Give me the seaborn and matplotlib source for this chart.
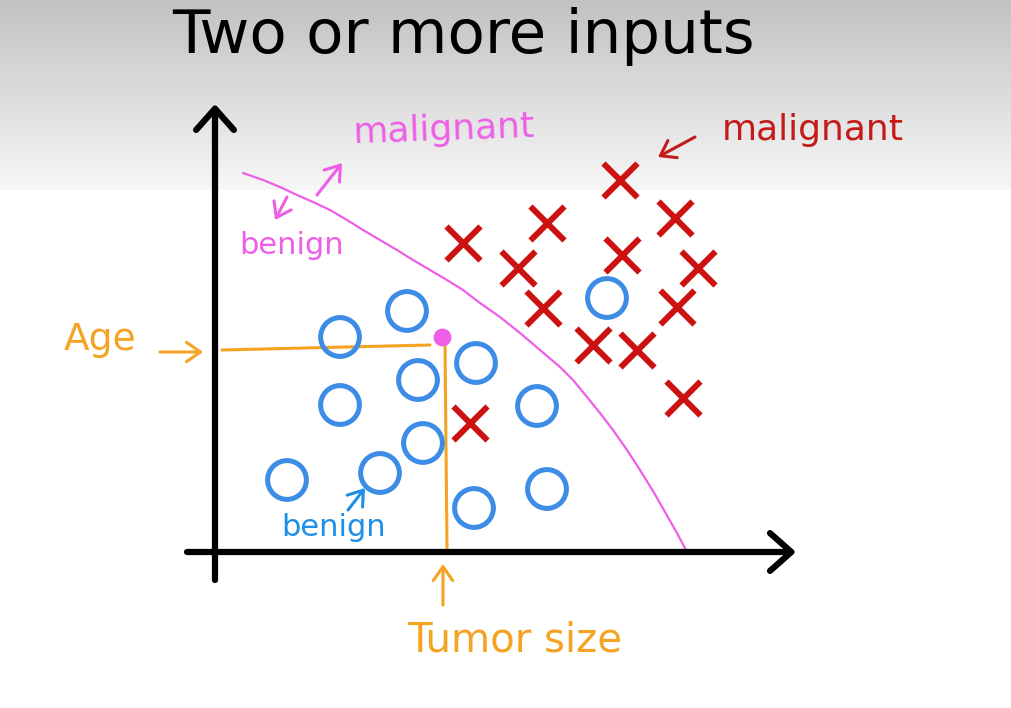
import numpy as np
import pandas as pd
import matplotlib

matplotlib.use("Agg")
import matplotlib.pyplot as plt  # noqa: E402
import seaborn as sns  # noqa: E402
from matplotlib.colors import LinearSegmentedColormap  # noqa: E402

# data in drawing units: tumor size (x) and age (y), origin at axis crossing
benign_x = [125, 192, 125, 203, 261, 208, 322, 72, 165, 259, 332, 392]
benign_y = [215, 241, 147, 172, 189, 109, 146, 72, 79, 44, 63, 254]
malignant_x = [248, 332, 303, 328, 405, 460, 407, 483, 462, 378, 422, 468, 255]
malignant_y = [309, 329, 284, 244, 372, 334, 297, 284, 245, 207, 202, 154, 129]

boundary_x = [28, 48, 65, 82, 98, 115, 132, 148, 165, 182, 198, 215, 232,
              248, 265, 285, 305, 325, 345, 358, 372, 385, 398, 412, 425,
              438, 450, 462, 472]
boundary_y = [379, 372, 365, 357, 350, 342, 332, 322, 312, 302, 292, 282,
              272, 262, 249, 235, 219, 202, 185, 172, 155, 139, 122, 102,
              82, 61, 40, 19, 0]

query_point = (227, 215)

BLUE = "#3d8ce6"
RED = "#cc1111"
MAGENTA = "#ee5ee6"
ORANGE = "#f5a323"

sns.set_style("white")
plt.rcParams["font.family"] = ["DejaVu Sans"]

fig = plt.figure(figsize=(10.11, 7.08), dpi=100)
ax = fig.add_axes([0, 0, 1, 1])

# grey slide gradient at the top
grad = np.linspace(0, 1, 200)[:, None]
cmap = LinearSegmentedColormap.from_list("bg", ["#f7f7f7", "#c2c2c2"])
ax.imshow(grad, cmap=cmap, extent=[-215, 796, 362, 552], aspect="auto",
          origin="lower", zorder=0)
ax.set_xlim(-215, 796)
ax.set_ylim(-156, 552)
ax.axis("off")

ax.text(248, 499, "Two or more inputs", fontsize=44, ha="center",
        va="baseline", color="black")

# axes arrows
axis_kw = dict(arrowstyle="->,head_length=0.45,head_width=0.4", color="black",
               lw=4.5, mutation_scale=34, shrinkA=0, shrinkB=0)
ax.annotate("", xy=(0, 448), xytext=(0, -28), arrowprops=axis_kw)
ax.annotate("", xy=(581, 0), xytext=(-28, 0), arrowprops=axis_kw)

# decision boundary
sns.lineplot(x=boundary_x, y=boundary_y, sort=False, estimator=None,
             color=MAGENTA, lw=1.6, ax=ax)

# guide lines to the query point
ax.plot([7, 215], [202, 207], color=ORANGE, lw=2.2)
ax.plot([230, 232], [207, 4], color=ORANGE, lw=2.2)

sns.scatterplot(x=benign_x, y=benign_y, marker="o", s=780,
                facecolors="none", edgecolors=BLUE, linewidths=3.6,
                ax=ax, zorder=3)
sns.scatterplot(x=malignant_x, y=malignant_y, marker="x", s=600,
                color=RED, linewidth=4.3, ax=ax, zorder=3)
ax.scatter([query_point[0]], [query_point[1]], s=140, color=MAGENTA, zorder=4)

# labels
ax.text(-115, 212, "Age", fontsize=27, color=ORANGE, ha="center", va="center")
ax.text(300, -88, "Tumor size", fontsize=29, color=ORANGE, ha="center",
        va="center")
small_kw = dict(arrowstyle="->,head_length=0.5,head_width=0.35", lw=2.2,
                mutation_scale=20, shrinkA=0, shrinkB=0)
ax.annotate("", xy=(-12, 200), xytext=(-55, 200),
            arrowprops=dict(color=ORANGE, **small_kw))
ax.annotate("", xy=(228, -12), xytext=(228, -53),
            arrowprops=dict(color=ORANGE, **small_kw))

ax.text(229, 422, "malignant", fontsize=26, color=MAGENTA, ha="center",
        va="center", rotation=2)
ax.text(77, 307, "benign", fontsize=22, color=MAGENTA, ha="center",
        va="center")
ax.annotate("", xy=(60, 332), xytext=(72, 355),
            arrowprops=dict(color=MAGENTA, **small_kw))
ax.annotate("", xy=(127, 389), xytext=(102, 357),
            arrowprops=dict(color=MAGENTA, **small_kw))

ax.text(598, 422, "malignant", fontsize=26, color="#c41a1a", ha="center",
        va="center")
ax.annotate("", xy=(443, 395), xytext=(480, 415),
            arrowprops=dict(color="#c41a1a", **small_kw))

ax.text(119, 25, "benign", fontsize=22, color="#1e8fe6", ha="center",
        va="center")
ax.annotate("", xy=(150, 64), xytext=(133, 42),
            arrowprops=dict(color="#1e8fe6", **small_kw))

fig.savefig("out.png", dpi=100)
